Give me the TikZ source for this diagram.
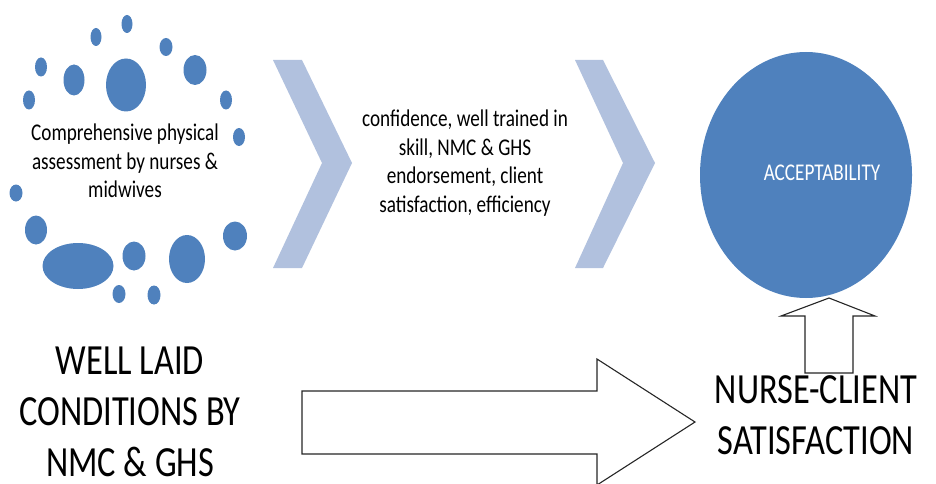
\documentclass[tikz,border=0pt]{standalone}
\usepackage{fontspec}
\setmainfont[FakeStretch=0.8]{Carlito}
\usetikzlibrary{shapes.geometric}
\definecolor{dotblue}{HTML}{4F81BD}
\definecolor{chevblue}{HTML}{B1C1DE}
\begin{document}
\begin{tikzpicture}[x=1pt,y=-1pt,
  dotfill/.style={fill=dotblue},
  chevron/.style={fill=chevblue},
  blockarrow/.style={draw=black!85,line width=1.1pt,fill=white,line join=miter},
  bigtxt/.style={font=\fontsize{43}{51}\selectfont,align=center,inner sep=0pt},
  smalltxt/.style={font=\fontsize{24}{28.5}\selectfont,align=center,inner sep=0pt}]
\useasboundingbox (0,0) rectangle (936,484);
% dots
\foreach \cx/\cy/\w/\h in {127/24/11/18, 96/37/11/18, 166/47/13/18, 41/67/12/19,
  74/80/21/31, 126/85/40/53, 195/70/23/30, 29/100/12/19, 226/100/12/19,
  239/137/12/18, 16/193/13/17, 36/230/22/29, 235/236/24/29, 78/266/71/46,
  134/256/23/29, 187/259/36/48, 119/294/13/18, 154/295/13/19}
  \fill[dotfill] (\cx,\cy) ellipse [x radius=\w/2*1pt, y radius=\h/2*1pt];
% chevrons
\fill[chevron] (273,60) -- (302,60) -- (352,163) -- (302,268) -- (273,268) -- (322,163) -- cycle;
\fill[chevron] (575,60) -- (603,60) -- (655,163) -- (603,268) -- (575,268) -- (623,163) -- cycle;
% up block arrow
\draw[blockarrow] (805,373) -- (805,316) -- (781,316) -- (829,298) -- (875,316) -- (853,316) -- (853,373) -- cycle;
% circle
\node[ellipse,draw=none,fill=dotblue,minimum width=212pt,minimum height=246pt,inner sep=0pt] (circ) at (806,175) {};
\node[smalltxt,text=white] (acc) at (822,173) {ACCEPTABILITY};
% big right block arrow
\draw[blockarrow] (302,391) -- (597,391) -- (597,359) -- (695,422) -- (597,485) -- (597,454) -- (302,454) -- cycle;
% texts
\node[smalltxt] (cpa) at (125,161) {Comprehensive physical\\assessment by nurses \&\\midwives};
\node[smalltxt] (mid) at (465,163) {confidence, well trained in\\skill, NMC \& GHS\\endorsement, client\\satisfaction, efficiency};
\node[bigtxt] (well) at (130,412) {WELL LAID\\CONDITIONS BY\\NMC \& GHS};
\node[bigtxt] (ncs) at (816,415) {NURSE-CLIENT\\SATISFACTION};
\end{tikzpicture}
\end{document}
